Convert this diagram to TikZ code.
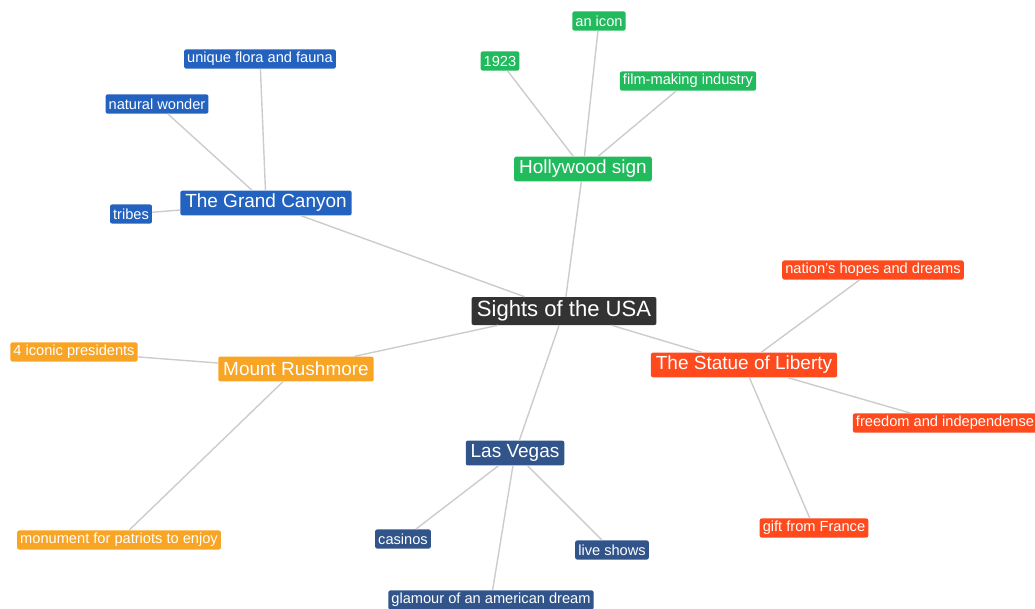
\documentclass[tikz,border=0pt]{standalone}
\usepackage{fontspec}
\setmainfont{Liberation Sans}
\usepackage{xcolor}
\usetikzlibrary{positioning,calc}
\definecolor{rootgray}{HTML}{333333}
\definecolor{canyonblue}{HTML}{2462C0}
\definecolor{signgreen}{HTML}{21BA5C}
\definecolor{libertyred}{HTML}{FF4A1E}
\definecolor{rushorange}{HTML}{F8A424}
\definecolor{vegasnavy}{HTML}{31548A}
\definecolor{linkgray}{HTML}{CCCCCC}
\begin{document}
\begin{tikzpicture}[
  x=0.025cm, y=-0.025cm,
  box/.style={fill=#1, text=white, rounded corners=1.5pt, inner ysep=0pt, align=center},
  root/.style={box=rootgray, font=\fontsize{15.7}{18}\selectfont, minimum height=7mm, inner xsep=3.8pt},
  topic/.style={box=#1, font=\fontsize{13.5}{16}\selectfont, minimum height=6.2mm, inner xsep=3.5pt},
  leaf/.style={box=#1, font=\fontsize{10.4}{12}\selectfont, minimum height=4.8mm, inner xsep=2.2pt},
  link/.style={draw=linkgray, line width=1pt},
]
\useasboundingbox (0,0) rectangle (1035,608);
\node[root] (usa) at (564,311) {Sights of the USA};
\node[topic=canyonblue] (canyon) at ($(usa)+(-298,-108)$) {The Grand Canyon};
\node[topic=signgreen] (sign) at ($(usa)+(19,-142)$) {Hollywood sign};
\node[topic=libertyred] (liberty) at ($(usa)+(180,54)$) {The Statue of Liberty};
\node[topic=rushorange] (rush) at ($(usa)+(-268,58)$) {Mount Rushmore};
\node[topic=vegasnavy] (vegas) at ($(usa)+(-49,142)$) {Las Vegas};
\node[leaf=canyonblue] (flora) at ($(canyon)+(-6,-144)$) {unique flora and fauna};
\node[leaf=canyonblue] (wonder) at ($(canyon)+(-109,-99)$) {natural wonder};
\node[leaf=canyonblue] (tribes) at ($(canyon)+(-135,11)$) {tribes};
\node[leaf=signgreen] (icon) at ($(sign)+(16,-148)$) {an icon};
\node[leaf=signgreen] (year) at ($(sign)+(-83,-108)$) {1923};
\node[leaf=signgreen] (film) at ($(sign)+(105,-88)$) {film-making industry};
\node[leaf=libertyred] (hopes) at ($(liberty)+(129,-95)$) {nation's hopes and dreams};
\node[leaf=libertyred] (freedom) at ($(liberty)+(201,58)$) {freedom and independense};
\node[leaf=libertyred] (gift) at ($(liberty)+(70,163)$) {gift from France};
\node[leaf=rushorange] (presidents) at ($(rush)+(-222,-17)$) {4 iconic presidents};
\node[leaf=rushorange] (monument) at ($(rush)+(-177,171)$) {monument for patriots to enjoy};
\node[leaf=vegasnavy] (casinos) at ($(vegas)+(-112,86)$) {casinos};
\node[leaf=vegasnavy] (shows) at ($(vegas)+(97,97)$) {live shows};
\node[leaf=vegasnavy] (glamour) at ($(vegas)+(-24,147)$) {glamour of an american dream};
\draw[link] (usa) -- (canyon);
\draw[link] (usa) -- (sign);
\draw[link] (usa) -- (liberty);
\draw[link] (usa) -- (rush);
\draw[link] (usa) -- (vegas);
\draw[link] (canyon) -- (flora);
\draw[link] (canyon) -- (wonder);
\draw[link] (canyon) -- (tribes);
\draw[link] (sign) -- (icon);
\draw[link] (sign) -- (year);
\draw[link] (sign) -- (film);
\draw[link] (liberty) -- (hopes);
\draw[link] (liberty) -- (freedom);
\draw[link] (liberty) -- (gift);
\draw[link] (rush) -- (presidents);
\draw[link] (rush) -- (monument);
\draw[link] (vegas) -- (casinos);
\draw[link] (vegas) -- (shows);
\draw[link] (vegas) -- (glamour);
\end{tikzpicture}
\end{document}
